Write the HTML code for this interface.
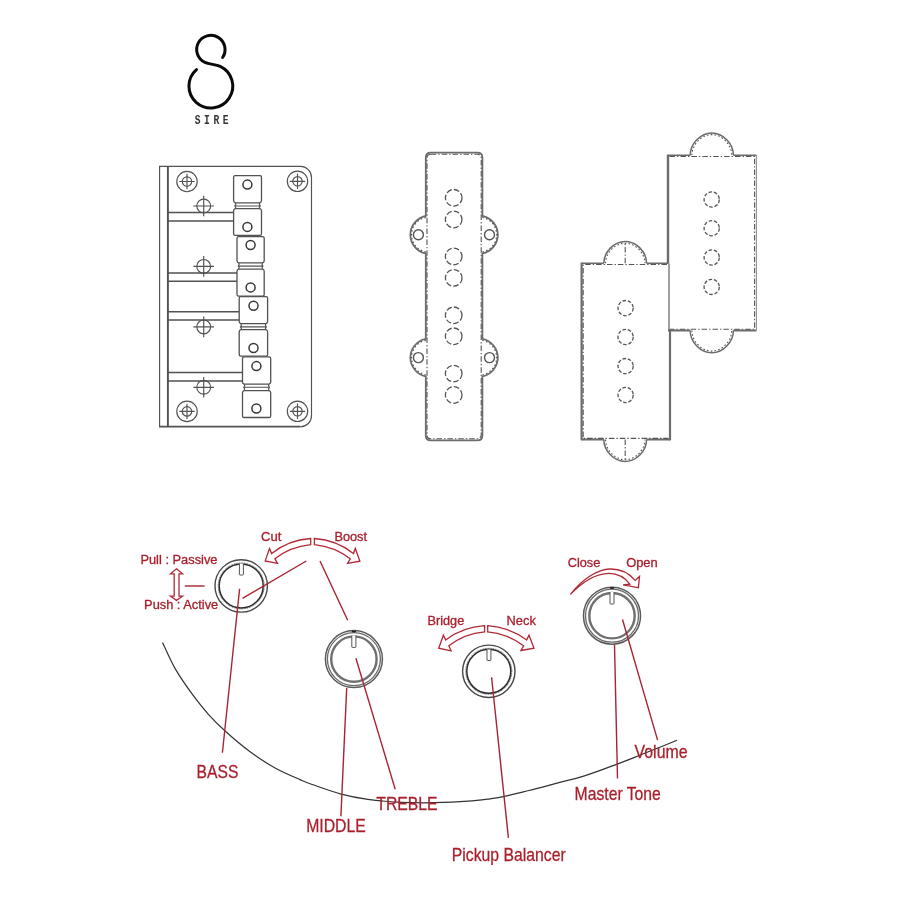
<!DOCTYPE html>
<html><head><meta charset="utf-8">
<style>
html,body{margin:0;padding:0;background:#fff;}
body{width:899px;height:899px;overflow:hidden;font-family:"Liberation Sans",sans-serif;}
svg{display:block;position:absolute;left:0;top:0;will-change:transform;}
text{font-family:"Liberation Sans",sans-serif;}
.r{fill:#aa1f2c;stroke:#aa1f2c;stroke-width:0.3;}
.rl{stroke:#aa2330;stroke-width:1.4;fill:none;stroke-linecap:butt;}
.ra{stroke:#b02a36;stroke-width:1.3;fill:none;stroke-linejoin:miter;}
.b{stroke:#525252;stroke-width:1.15;fill:none;}
.p{stroke:#6c6c6c;stroke-width:1.8;fill:none;}
.pd{stroke:#555;stroke-width:1.1;fill:none;stroke-dasharray:5.5 2 1.4 2;}
.pc{stroke:#555;stroke-width:1.3;fill:none;stroke-dasharray:5.6 2.2;}
.k1{stroke:#555;stroke-width:1.2;fill:none;}
.k2{stroke:#444;stroke-width:1.8;fill:none;}
.k3{stroke:#707070;stroke-width:2.4;fill:none;}
.body{stroke:#333;stroke-width:1.2;fill:none;}
</style></head><body>
<svg width="899" height="899" viewBox="0 0 899 899">

<g>
<path d="M222.6 57.5 A14.2 14.2 0 1 0 204.9 62.4 C209.4 64.5 215.7 64.25 220.2 66.35 A21.9 21.9 0 1 1 196.5 69.6" fill="none" stroke="#0a0a0a" stroke-width="3" stroke-linecap="round"/>
<text transform="translate(197.7,123.7) scale(0.72,1)" font-size="13.4" font-weight="bold" text-anchor="middle" fill="#333" style="font-family:'Liberation Mono',monospace">S</text>
<text transform="translate(206.9,123.7) scale(0.72,1)" font-size="13.4" font-weight="bold" text-anchor="middle" fill="#333" style="font-family:'Liberation Mono',monospace">I</text>
<text transform="translate(216.5,123.7) scale(0.72,1)" font-size="13.4" font-weight="bold" text-anchor="middle" fill="#333" style="font-family:'Liberation Mono',monospace">R</text>
<text transform="translate(225.7,123.7) scale(0.72,1)" font-size="13.4" font-weight="bold" text-anchor="middle" fill="#333" style="font-family:'Liberation Mono',monospace">E</text>
</g>
<g class="b">
<path d="M159.6 426.7 V166.4 H300.5 A11 11 0 0 1 311.5 177.4 V415.7 A11 11 0 0 1 300.5 426.7"/>
<path d="M159 426.7 H300.5" style="stroke-width:1.7"/>
<line x1="167.9" y1="166.4" x2="167.9" y2="426.7" style="stroke-width:1.9"/>
<circle cx="187.0" cy="181.5" r="10.2"/><circle cx="187.0" cy="181.5" r="4.7"/><path d="M179.3 181.5H194.7M187.0 173.8V189.2"/>
<circle cx="297.5" cy="181.3" r="10.2"/><circle cx="297.5" cy="181.3" r="4.7"/><path d="M289.8 181.3H305.2M297.5 173.60000000000002V189.0"/>
<circle cx="187.0" cy="411.4" r="10.2"/><circle cx="187.0" cy="411.4" r="4.7"/><path d="M179.3 411.4H194.7M187.0 403.7V419.09999999999997"/>
<circle cx="297.5" cy="411.3" r="10.2"/><circle cx="297.5" cy="411.3" r="4.7"/><path d="M289.8 411.3H305.2M297.5 403.6V419.0"/>
<circle cx="203.7" cy="206.0" r="6.9"/><path d="M193.39999999999998 206.0H214.0M203.7 195.7V216.3"/>
<circle cx="203.7" cy="266.4" r="6.9"/><path d="M193.39999999999998 266.4H214.0M203.7 256.09999999999997V276.7"/>
<circle cx="203.7" cy="326.9" r="6.9"/><path d="M193.39999999999998 326.9H214.0M203.7 316.59999999999997V337.2"/>
<circle cx="203.7" cy="387.3" r="6.9"/><path d="M193.39999999999998 387.3H214.0M203.7 377.0V397.6"/>
<path d="M167.8 212.6H233.4M167.8 220.9H233.4" style="stroke-width:1.5"/>
<path d="M167.8 273H237.2M167.8 281.3H237.2" style="stroke-width:1.5"/>
<path d="M167.8 311.8H239.4M167.8 320H239.4" style="stroke-width:1.5"/>
<path d="M167.8 372.5H242.8M167.8 380.9H242.8" style="stroke-width:1.5"/>
<path fill="#fff" d="M235.29999999999998 202.8Q233.6 202.20000000000002 233.6 200.60000000000002V177.29999999999998Q233.6 175.7 235.2 175.7H259.9Q261.5 175.7 261.5 177.29999999999998V200.60000000000002Q261.5 202.20000000000002 259.8 202.8Z" style="stroke-width:1.3"/>
<path d="M235.29999999999998 202.8L235.79999999999998 204.4L234.79999999999998 206.0L235.79999999999998 207.3L235.29999999999998 208.6M259.8 202.8L259.3 204.4L260.3 206.0L259.3 207.3L259.8 208.6M235.29999999999998 206.0H259.8" style="stroke-width:1.1"/>
<path fill="#fff" d="M235.29999999999998 208.6Q233.6 209.2 233.6 210.79999999999998V233.8Q233.6 235.4 235.2 235.4H259.9Q261.5 235.4 261.5 233.8V210.79999999999998Q261.5 209.2 259.8 208.6Z" style="stroke-width:1.3"/>
<circle cx="247.4" cy="184.6" r="4.5" style="stroke-width:1.5;stroke:#383838"/><circle cx="247.4" cy="226.9" r="4.5" style="stroke-width:1.5;stroke:#383838"/>
<path fill="#fff" d="M238.7 262.9Q237.0 262.29999999999995 237.0 260.7V238.29999999999998Q237.0 236.7 238.6 236.7H262.59999999999997Q264.2 236.7 264.2 238.29999999999998V260.7Q264.2 262.29999999999995 262.5 262.9Z" style="stroke-width:1.3"/>
<path d="M238.7 262.9L239.2 264.5L238.2 266.1L239.2 267.65L238.7 269.2M262.5 262.9L262.0 264.5L263.0 266.1L262.0 267.65L262.5 269.2M238.7 266.1H262.5" style="stroke-width:1.1"/>
<path fill="#fff" d="M238.7 269.2Q237.0 269.8 237.0 271.4V294.59999999999997Q237.0 296.2 238.6 296.2H262.59999999999997Q264.2 296.2 264.2 294.59999999999997V271.4Q264.2 269.8 262.5 269.2Z" style="stroke-width:1.3"/>
<circle cx="250.6" cy="245.0" r="4.5" style="stroke-width:1.5;stroke:#383838"/><circle cx="250.6" cy="287.4" r="4.5" style="stroke-width:1.5;stroke:#383838"/>
<path fill="#fff" d="M240.89999999999998 323.7Q239.2 323.09999999999997 239.2 321.5V298.20000000000005Q239.2 296.6 240.79999999999998 296.6H266.0Q267.6 296.6 267.6 298.20000000000005V321.5Q267.6 323.09999999999997 265.90000000000003 323.7Z" style="stroke-width:1.3"/>
<path d="M240.89999999999998 323.7L241.39999999999998 325.29999999999995L240.39999999999998 326.9L241.39999999999998 328.25L240.89999999999998 329.6M265.90000000000003 323.7L265.40000000000003 325.29999999999995L266.40000000000003 326.9L265.40000000000003 328.25L265.90000000000003 329.6M240.89999999999998 326.9H265.90000000000003" style="stroke-width:1.1"/>
<path fill="#fff" d="M240.89999999999998 329.6Q239.2 330.20000000000005 239.2 331.8V354.59999999999997Q239.2 356.2 240.79999999999998 356.2H266.0Q267.6 356.2 267.6 354.59999999999997V331.8Q267.6 330.20000000000005 265.90000000000003 329.6Z" style="stroke-width:1.3"/>
<circle cx="253.5" cy="305.7" r="4.5" style="stroke-width:1.5;stroke:#383838"/><circle cx="253.5" cy="348.0" r="4.5" style="stroke-width:1.5;stroke:#383838"/>
<path fill="#fff" d="M244.2 384.2Q242.5 383.59999999999997 242.5 382.0V358.40000000000003Q242.5 356.8 244.1 356.8H269.09999999999997Q270.7 356.8 270.7 358.40000000000003V382.0Q270.7 383.59999999999997 269.0 384.2Z" style="stroke-width:1.3"/>
<path d="M244.2 384.2L244.7 385.75L243.7 387.3L244.7 388.95000000000005L244.2 390.6M269.0 384.2L268.5 385.75L269.5 387.3L268.5 388.95000000000005L269.0 390.6M244.2 387.3H269.0" style="stroke-width:1.1"/>
<path fill="#fff" d="M244.2 390.6Q242.5 391.20000000000005 242.5 392.8V415.9Q242.5 417.5 244.1 417.5H269.09999999999997Q270.7 417.5 270.7 415.9V392.8Q270.7 391.20000000000005 269.0 390.6Z" style="stroke-width:1.3"/>
<circle cx="256.4" cy="366.1" r="4.5" style="stroke-width:1.5;stroke:#383838"/><circle cx="256.4" cy="408.5" r="4.5" style="stroke-width:1.5;stroke:#383838"/>
</g>
<g>
<path class="p" d="M430.8 152.6Q425.8 152.6 425.8 157.6V216.0A19.05 19.05 0 0 0 425.8 253.39999999999998V338.90000000000003A19.05 19.05 0 0 0 425.8 376.3V435.4Q425.8 440.4 430.8 440.4H477.4Q482.4 440.4 482.4 435.4V376.3A19.05 19.05 0 0 0 482.4 338.90000000000003V253.39999999999998A19.05 19.05 0 0 0 482.4 216.0V157.6Q482.4 152.6 477.4 152.6Z"/>
<rect class="pd" x="427.0" y="154.2" width="54.19999999999997" height="284.59999999999997" rx="3.8" ry="3.8"/>
<path class="pd" style="stroke-dasharray:1.5 2.4;stroke-width:1.2" d="M425.8 217.5A17.5 17.5 0 0 0 425.8 251.89999999999998"/>
<path class="pd" style="stroke-dasharray:1.5 2.4;stroke-width:1.2" d="M482.4 251.89999999999998A17.5 17.5 0 0 0 482.4 217.5"/>
<circle cx="418.4" cy="234.7" r="5" stroke="#555" stroke-width="1.4" fill="none"/>
<circle cx="489.5" cy="234.7" r="5" stroke="#555" stroke-width="1.4" fill="none"/>
<path class="pd" style="stroke-dasharray:1.5 2.4;stroke-width:1.2" d="M425.8 340.40000000000003A17.5 17.5 0 0 0 425.8 374.8"/>
<path class="pd" style="stroke-dasharray:1.5 2.4;stroke-width:1.2" d="M482.4 374.8A17.5 17.5 0 0 0 482.4 340.40000000000003"/>
<circle cx="418.4" cy="357.6" r="5" stroke="#555" stroke-width="1.4" fill="none"/>
<circle cx="489.5" cy="357.6" r="5" stroke="#555" stroke-width="1.4" fill="none"/>
<circle class="pc" cx="453.7" cy="197.8" r="8.3"/>
<circle class="pc" cx="453.7" cy="219.5" r="8.3"/>
<circle class="pc" cx="453.7" cy="256.5" r="8.3"/>
<circle class="pc" cx="453.7" cy="277.9" r="8.3"/>
<circle class="pc" cx="453.7" cy="315.3" r="8.3"/>
<circle class="pc" cx="453.7" cy="336.3" r="8.3"/>
<circle class="pc" cx="453.7" cy="373.6" r="8.3"/>
<circle class="pc" cx="453.7" cy="395.0" r="8.3"/>
</g>
<g>
<path class="p" style="stroke-width:1.4" d="M668.0 155.3H690.1999999999999M733.4 155.3H756.4"/>
<path class="p" style="stroke-width:2" d="M668.0 330.4H690.1999999999999M733.4 330.4H756.4"/>
<path class="p" style="stroke-width:2.4" d="M668.0 154.60000000000002V263.6"/>
<path class="p" style="stroke-width:1.3" d="M669.0 263.6V330.4"/>
<path class="p" style="stroke-width:1;stroke:#888" d="M756.4 155.3V330.4"/>
<path class="pd" d="M669.6 156.5H754.6V329.2H669.6"/>
<path class="p" style="stroke-width:1.5" d="M690.1999999999999 155.3C690.1999999999999 143.65200000000002 700.568 132.9 711.8 132.9C723.0319999999999 132.9 733.4 143.65200000000002 733.4 155.3"/>
<path class="pd" style="stroke-dasharray:1.6 2.2;stroke-width:1.1" d="M691.9 155.3C691.9 144.536 701.452 134.60000000000002 711.8 134.60000000000002C722.1479999999999 134.60000000000002 731.6999999999999 144.536 731.6999999999999 155.3"/>
<path class="p" style="stroke-width:1.5" d="M690.1999999999999 330.4C690.1999999999999 342.048 700.568 352.79999999999995 711.8 352.79999999999995C723.0319999999999 352.79999999999995 733.4 342.048 733.4 330.4"/>
<path class="pd" style="stroke-dasharray:1.6 2.2;stroke-width:1.1" d="M691.9 330.4C691.9 341.164 701.452 351.09999999999997 711.8 351.09999999999997C722.1479999999999 351.09999999999997 731.6999999999999 341.164 731.6999999999999 330.4"/>
<circle class="pc" cx="711.7" cy="199.5" r="7.6" style="stroke-dasharray:3.6 1.8"/>
<circle class="pc" cx="711.7" cy="228.2" r="7.6" style="stroke-dasharray:3.6 1.8"/>
<circle class="pc" cx="711.7" cy="257.5" r="7.6" style="stroke-dasharray:3.6 1.8"/>
<circle class="pc" cx="711.7" cy="286.9" r="7.6" style="stroke-dasharray:3.6 1.8"/>
<path class="p" style="stroke-width:1.4" d="M581.6 263.3H603.8000000000001M646.6 263.3H668"/>
<path class="p" style="stroke-width:2" d="M581.6 439.6H603.8000000000001M646.6 439.6H670.0"/>
<path class="p" style="stroke-width:2.2" d="M581.6 262.6V440.3"/>
<path class="p" style="stroke-width:2.2" d="M670.0 330.4V440.3"/>
<path class="pd" d="M667 264.5H583.2V438.40000000000003H668.4"/>
<path class="p" style="stroke-width:1.5" d="M603.8000000000001 263.3C603.8000000000001 251.964 614.072 241.5 625.2 241.5C636.3280000000001 241.5 646.6 251.964 646.6 263.3"/>
<path class="pd" style="stroke-dasharray:1.6 2.2;stroke-width:1.1" d="M605.5 263.3C605.5 252.848 614.956 243.20000000000002 625.2 243.20000000000002C635.4440000000001 243.20000000000002 644.9000000000001 252.848 644.9000000000001 263.3"/>
<path class="pd" d="M625.2 263.3V241.5"/>
<path class="p" style="stroke-width:1.5" d="M603.8000000000001 439.6C603.8000000000001 450.93600000000004 614.072 461.40000000000003 625.2 461.40000000000003C636.3280000000001 461.40000000000003 646.6 450.93600000000004 646.6 439.6"/>
<path class="pd" style="stroke-dasharray:1.6 2.2;stroke-width:1.1" d="M605.5 439.6C605.5 450.052 614.956 459.70000000000005 625.2 459.70000000000005C635.4440000000001 459.70000000000005 644.9000000000001 450.052 644.9000000000001 439.6"/>
<path class="pd" d="M625.2 439.6V461.40000000000003"/>
<circle class="pc" cx="625.6" cy="308.1" r="7.6" style="stroke-dasharray:3.6 1.8"/>
<circle class="pc" cx="625.6" cy="337.0" r="7.6" style="stroke-dasharray:3.6 1.8"/>
<circle class="pc" cx="625.6" cy="366.1" r="7.6" style="stroke-dasharray:3.6 1.8"/>
<circle class="pc" cx="625.6" cy="395.0" r="7.6" style="stroke-dasharray:3.6 1.8"/>
</g>
<path class="body" d="M162.5 642.5 C164.6 646.8 170.1 659.9 175.0 668.4 C179.9 676.9 186.1 685.8 191.7 693.4 C197.3 701.0 202.8 708.0 208.4 714.3 C214.0 720.6 218.2 724.8 225.1 731.0 C232.0 737.2 241.8 745.6 250.1 751.8 C258.4 758.0 266.8 763.4 275.1 768.0 C283.4 772.6 293.8 776.9 300.0 779.6 C306.2 782.4 305.3 782.1 312.2 784.5 C319.1 786.9 331.9 791.6 341.2 794.1 C350.5 796.6 357.9 798.0 367.9 799.4 C377.9 800.8 390.1 801.8 401.2 802.3 C412.3 802.8 423.5 802.9 434.6 802.7 C445.7 802.5 458.8 801.9 468.0 801.2 C477.2 800.6 483.9 799.6 490.0 798.8 C496.1 798.0 498.0 797.8 504.5 796.4 C511.0 795.0 520.8 792.5 528.9 790.5 C537.0 788.5 544.0 786.6 553.4 784.1 C562.8 781.6 574.6 778.9 585.2 775.6 C595.8 772.3 608.1 767.5 617.1 764.1 C626.1 760.8 631.4 758.6 639.1 755.5 C646.9 752.4 657.3 748.2 663.6 745.7 C669.9 743.2 674.8 741.2 677.0 740.3"/>
<circle class="k1" cx="241.2" cy="585.9" r="26.2" style="stroke:#484848;stroke-width:1.4"/>
<circle class="k2" cx="241.2" cy="585.9" r="22.0" style="stroke:#2c2c2c;stroke-width:1.5"/>
<circle class="k2" cx="241.2" cy="585.9" r="23.0" style="stroke:#444;stroke-width:1.0;stroke-dasharray:0.9 0.8"/>
<path d="M239.4 563.5V574.5Q239.4 575 239.9 575H242.9Q243.4 575 243.4 574.5V563.5" stroke="#555" stroke-width="1" fill="#fff"/>
<circle class="k1" cx="353.9" cy="659.1" r="28.5" style="stroke:#5a5a5a;stroke-width:1.5"/>
<circle class="k1" cx="353.9" cy="659.1" r="26.5" style="stroke:#6a6a6a;stroke-width:1.3"/>
<circle class="k3" cx="353.9" cy="659.1" r="22.7"/>
<path d="M351.9 630.8000000000001Q353.9 632.6 355.9 630.8000000000001" stroke="#222" stroke-width="1.6" fill="none"/>
<path d="M351.8 635.5V646.9Q351.8 647.4 352.3 647.4H355.4Q355.9 647.4 355.9 646.9V635.5" stroke="#555" stroke-width="1" fill="#fff"/>
<circle class="k1" cx="488.8" cy="671.3" r="26.2" style="stroke:#484848;stroke-width:1.4"/>
<circle class="k2" cx="488.8" cy="671.3" r="22.0" style="stroke:#2c2c2c;stroke-width:1.5"/>
<circle class="k2" cx="488.8" cy="671.3" r="23.0" style="stroke:#444;stroke-width:1.0;stroke-dasharray:0.9 0.8"/>
<path d="M487 649.4V660.0Q487 660.5 487.5 660.5H490.4Q490.9 660.5 490.9 660.0V649.4" stroke="#555" stroke-width="1" fill="#fff"/>
<circle class="k1" cx="612.0" cy="615.7" r="28.5" style="stroke:#5a5a5a;stroke-width:1.5"/>
<circle class="k1" cx="612.0" cy="615.7" r="26.5" style="stroke:#6a6a6a;stroke-width:1.3"/>
<circle class="k3" cx="612.0" cy="615.7" r="22.7"/>
<path d="M610.0 587.4000000000001Q612.0 589.2 614.0 587.4000000000001" stroke="#222" stroke-width="1.6" fill="none"/>
<path d="M610 592V603.5Q610 604 610.5 604H613.5Q614 604 614 603.5V592" stroke="#555" stroke-width="1" fill="#fff"/>
<line class="rl" x1="239.6" y1="588.8" x2="222.4" y2="752.8"/>
<line class="rl" x1="242.5" y1="598.4" x2="306.3" y2="561"/>
<line class="rl" x1="320" y1="561" x2="347.7" y2="620.2"/>
<line class="rl" x1="346.7" y1="688" x2="340.9" y2="816.2"/>
<line class="rl" x1="355.9" y1="658.3" x2="395.2" y2="789.2"/>
<line class="rl" x1="491.6" y1="677.3" x2="508.4" y2="837.9"/>
<line class="rl" x1="614.5" y1="644.5" x2="617.5" y2="778.5"/>
<line class="rl" x1="622.5" y1="619.5" x2="657.6" y2="740.1"/>
<line class="rl" x1="184.7" y1="586" x2="204.6" y2="586"/>
<path class="ra" d="M310.7 538.5 C296 539.5 282 545 271.7 553.6 L269.5 548.5 L265.2 560.9 L277.5 563.4 L274.9 558.8 C284 551.5 297 546 310.7 544.6 Z"/>
<path class="ra" d="M314.4 538.5 C329 539.5 343 545 353.4 553.6 L355.3 548.5 L359.9 561.2 L347.6 563.4 L350.2 558.8 C341 551.5 328 546 314.4 544.6 Z"/>
<path class="ra" d="M484.6 625.6 C470 626.5 456 632 445.7 639.9 L443.4 635.2 L438.7 648.2 L451.1 650.8 L448.8 645.8 C458 638.5 471 633 484.6 631.8 Z"/>
<path class="ra" d="M487.7 625.6 C502 626.5 516 632 526.7 639.9 L529 635.2 L534 648.2 L520.9 650.5 L523.6 645.8 C514 638.5 501 633 487.7 631.8 Z"/>
<path class="ra" d="M570.4 594.4 C583 578 598 569.5 610 569 C620 568.8 629 573 635.1 580.4 L639.5 576.4 L638.4 587.7 L623.1 584.8 L629.8 584.1 C625 577.5 618 573.3 609 573.3 C598 573.5 584 580 570.4 594.4 Z"/>
<path class="ra" d="M176.5 568.8 L182.5 573.8 L179 573.8 L179 596.2 L182.5 596.2 L176.5 600.4 L170.5 596.2 L174.2 596.2 L174.2 573.8 L170.5 573.8 Z"/>
<g opacity="0.995">
<text class="r" x="140.4" y="563.5" font-size="12.5" textLength="77.10000000000001" lengthAdjust="spacingAndGlyphs">Pull : Passive</text>
<text class="r" x="144.1" y="609.3000000000001" font-size="12.5" textLength="74.10000000000001" lengthAdjust="spacingAndGlyphs">Push : Active</text>
<text class="r" x="261.0" y="541.4000000000001" font-size="12" textLength="20.3" lengthAdjust="spacingAndGlyphs">Cut</text>
<text class="r" x="334.4" y="541.4000000000001" font-size="12" textLength="32.6" lengthAdjust="spacingAndGlyphs">Boost</text>
<text class="r" x="427.5" y="624.8000000000001" font-size="12" textLength="36.7" lengthAdjust="spacingAndGlyphs">Bridge</text>
<text class="r" x="506.59999999999997" y="624.8000000000001" font-size="12" textLength="29.2" lengthAdjust="spacingAndGlyphs">Neck</text>
<text class="r" x="567.8" y="567.4000000000001" font-size="12" textLength="32.5" lengthAdjust="spacingAndGlyphs">Close</text>
<text class="r" x="626.1999999999999" y="567.4000000000001" font-size="12" textLength="31.5" lengthAdjust="spacingAndGlyphs">Open</text>
<text class="r" x="196.6" y="778.0" font-size="19" textLength="41.800000000000004" lengthAdjust="spacingAndGlyphs">BASS</text>
<text class="r" x="306.2" y="832.3000000000001" font-size="19" textLength="59.6" lengthAdjust="spacingAndGlyphs">MIDDLE</text>
<text class="r" x="376.29999999999995" y="810.2" font-size="19" textLength="61.2" lengthAdjust="spacingAndGlyphs">TREBLE</text>
<text class="r" x="451.79999999999995" y="860.7" font-size="19" textLength="113.9" lengthAdjust="spacingAndGlyphs">Pickup Balancer</text>
<text class="r" x="574.6" y="800.2" font-size="19" textLength="86.2" lengthAdjust="spacingAndGlyphs">Master Tone</text>
<text class="r" x="634.6" y="757.9000000000001" font-size="19" textLength="52.900000000000006" lengthAdjust="spacingAndGlyphs">Volume</text>
</g>
</svg>
</body></html>
